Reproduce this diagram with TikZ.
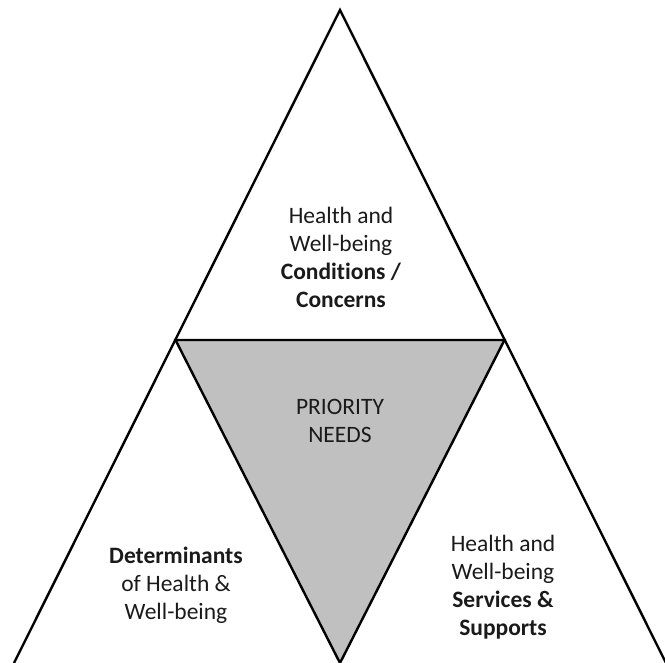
\documentclass[tikz,border=0pt]{standalone}
\usepackage{fontspec}
\setmainfont[Ligatures={NoCommon}]{Carlito}
\definecolor{midgray}{HTML}{C0C0C0}
\definecolor{txt}{HTML}{1A1A1A}
\tikzset{
  edge/.style={line width=2.4pt, draw=black, line join=miter},
  lbl/.style={align=center, text=txt, font=\fontsize{23.5}{28}\selectfont, inner sep=0pt}
}
\begin{document}
\begin{tikzpicture}[x=1pt,y=-1pt]
\useasboundingbox (0,0) rectangle (665,663);
\coordinate (apex) at (340,10);
\coordinate (bl) at (14,663);
\coordinate (br) at (666,663);
\coordinate (ml) at (175.5,340);
\coordinate (mr) at (504.5,340);
\coordinate (mb) at (340,663);
\begin{scope}
\clip (0,0) rectangle (665,663);
\fill[midgray] (ml) -- (mr) -- (mb) -- cycle;
\draw[edge] (bl) -- (apex) -- (br);
\draw[edge] (ml) -- (mr) -- (mb) -- cycle;
\end{scope}
\node[lbl] (top) at (341,257) {Health and\\Well-being\\\textbf{Conditions /}\\\textbf{Concerns}};
\node[lbl] (mid) at (340,421) {PRIORITY\\NEEDS};
\node[lbl] (left) at (176,585) {\textbf{Determinants}\\of Health \&\\Well-being};
\node[lbl] (right) at (503,587) {Health and\\Well-being\\\textbf{Services \&}\\\textbf{Supports}};
\end{tikzpicture}
\end{document}
